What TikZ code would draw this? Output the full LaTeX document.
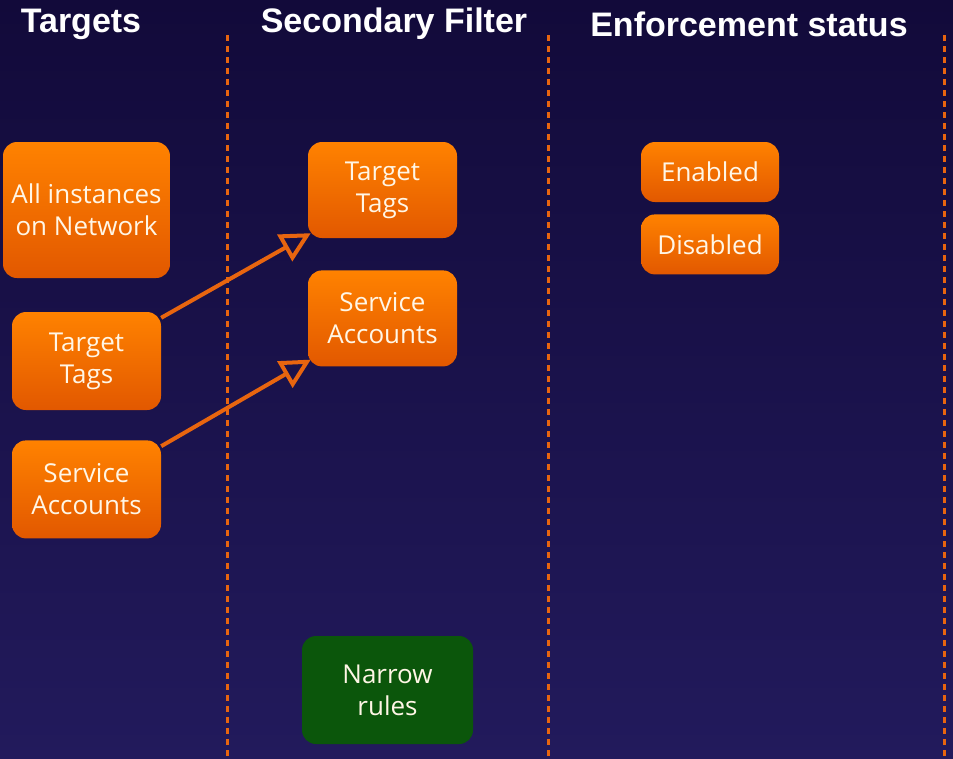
\documentclass[tikz,border=0pt]{standalone}
\usepackage{fontspec}
\setmainfont{Open Sans}
\newfontfamily\headfont{Liberation Sans}
\usepackage{tikz}
\usetikzlibrary{positioning, arrows.meta, calc}
\definecolor{bgTop}{HTML}{120A3A}
\definecolor{bgBot}{HTML}{221A5C}
\definecolor{orTop}{HTML}{FF8200}
\definecolor{orBot}{HTML}{E25800}
\definecolor{orLine}{HTML}{E8650F}
\definecolor{grBox}{HTML}{0B560B}
\definecolor{txtCream}{HTML}{FFF6E6}
\tikzset{
    box/.style={rectangle, rounded corners=14pt, top color=orTop, bottom color=orBot,
        draw=none, text=txtCream, align=center, inner sep=0pt,
        font=\fontsize{26}{32}\selectfont},
    greenbox/.style={box, top color=grBox, bottom color=grBox},
    header/.style={text=white, font=\headfont\bfseries\fontsize{34}{38}\selectfont},
    divider/.style={orLine, line width=3pt, dash pattern=on 6pt off 5pt},
    link/.style={orLine, line width=4pt, -{Triangle[open, length=30pt, width=30pt, line width=4pt]}},
}
\begin{document}
\begin{tikzpicture}[x=1pt, y=-1pt]
    \shade[top color=bgTop, bottom color=bgBot] (0,0) rectangle (953,758);
    \useasboundingbox (0,0) rectangle (953,758);

    % column headers
    \node[header] (hTargets) at (81,24) {Targets};
    \node[header] (hFilter) at (394,24) {Secondary Filter};
    \node[header] (hStatus) at (749,24) {Enforcement status};

    % dividers
    \coordinate (d1a) at (227,35); \coordinate (d1b) at (227,758);
    \coordinate (d2a) at (548,35); \coordinate (d2b) at (548,758);
    \coordinate (d3a) at (944,35); \coordinate (d3b) at (944,758);
    \draw[divider] (d1a) -- (d1b);
    \draw[divider] (d2a) -- (d2b);
    \draw[divider] (d3a) -- (d3b);

    % targets
    \node[box, minimum width=167pt, minimum height=136pt] (allnet) at (86.5,210) {All instances\\on Network};
    \node[box, minimum width=149pt, minimum height=98pt] (ltt) at (86.5,361) {Target\\Tags};
    \node[box, minimum width=149pt, minimum height=98pt, below=30pt of ltt] (lsa) {Service\\Accounts};

    % secondary filter
    \node[box, minimum width=149pt, minimum height=96pt] (mtt) at (382.5,190) {Target\\Tags};
    \node[box, minimum width=149pt, minimum height=96pt, below=32pt of mtt] (msa) {Service\\Accounts};
    \node[greenbox, minimum width=171pt, minimum height=108pt] (narrow) at (387.5,690) {Narrow\\rules};

    % enforcement status
    \node[box, minimum width=138pt, minimum height=60pt] (en) at (710,172) {Enabled};
    \node[box, minimum width=138pt, minimum height=60pt, below=12pt of en] (dis) {Disabled};

    \draw[link] ($(ltt.north east)+(0,6)$) -- ($(mtt.south west)+(3,-5)$);
    \draw[link] ($(lsa.north east)+(0,6)$) -- ($(msa.south west)+(3,-7)$);
\end{tikzpicture}
\end{document}
